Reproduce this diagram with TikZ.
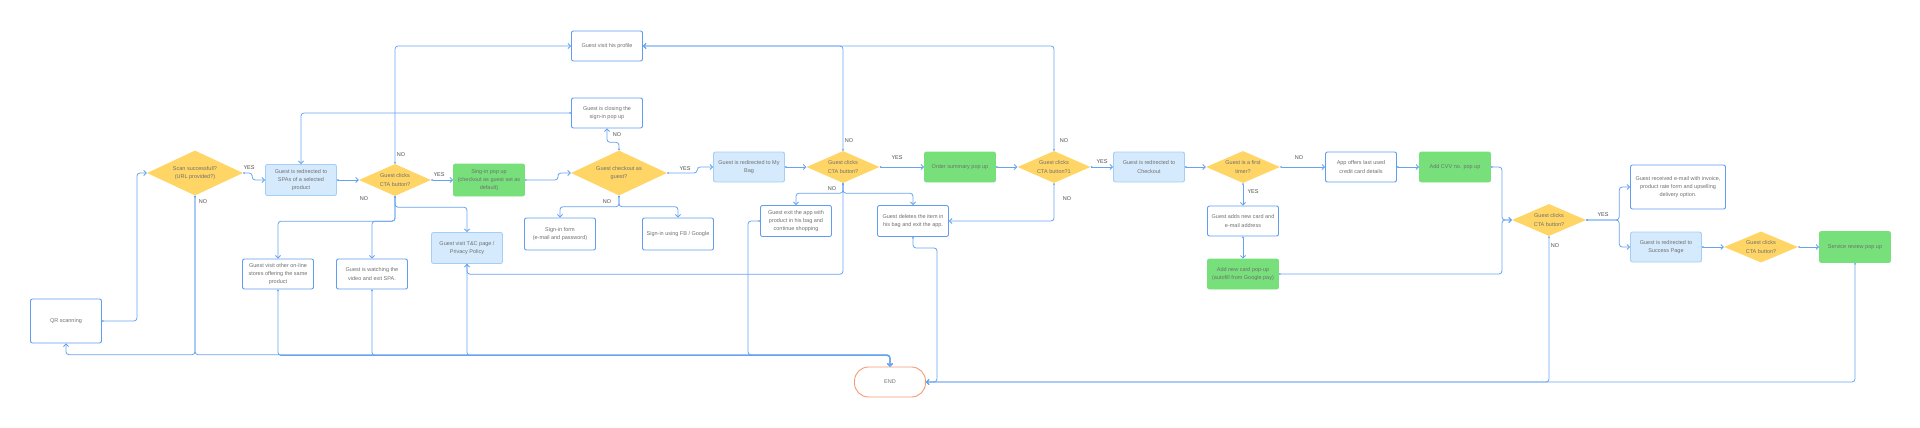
\documentclass[tikz,border=0pt]{standalone}
\usepackage{fontspec}
\setmainfont{Liberation Sans}
\usetikzlibrary{arrows.meta,shapes.geometric}

\definecolor{lineblue}{RGB}{104,163,240}
\definecolor{boxblue}{RGB}{96,156,240}
\definecolor{fillblue}{RGB}{213,234,252}
\definecolor{edgeblue}{RGB}{165,206,246}
\definecolor{popgreen}{RGB}{119,224,123}
\definecolor{askyellow}{RGB}{255,213,102}
\definecolor{endorange}{RGB}{245,152,112}
\definecolor{greytext}{RGB}{112,112,112}

\begin{document}
\begin{tikzpicture}[x=1pt,y=-1pt,>={Straight Barb[length=2.5pt,width=5pt]},
                    font=\fontsize{5.5}{8.2}\selectfont]
  \tikzstyle{every node}=[text=greytext,align=center]
  \tikzstyle{plain}=[rectangle,draw=boxblue,fill=white,line width=0.9pt,rounded corners=2pt,
                     minimum width=71pt,minimum height=30pt,inner sep=1pt]
  \tikzstyle{page}=[plain,draw=edgeblue,fill=fillblue]
  \tikzstyle{popup}=[plain,draw=popgreen,fill=popgreen]
  \tikzstyle{ask}=[diamond,fill=askyellow,aspect=2.2,inner sep=0pt,
                   minimum width=73pt,minimum height=32pt]
  \tikzstyle{stop}=[rectangle,draw=endorange,line width=0.9pt,rounded corners=14pt,
                    minimum width=71pt,minimum height=30pt]
  \tikzstyle{link}=[draw=lineblue,line width=0.8pt,rounded corners=3pt,{Circle[length=1.8pt]}->]
  \tikzstyle{lbl}=[text=black!70,inner sep=0.5pt]

  \useasboundingbox (0,0) rectangle (1920,428);

  % first row
  \node[plain,minimum height=44pt] (qr)      at (66,321)   {QR scanning};
  \node[ask,minimum width=96pt,minimum height=45pt]
                                   (scan)    at (195,173)  {Scan successfull?\\(URL provided?)};
  \node[page,minimum height=31pt]  (spa)     at (301,180)  {Guest is redirected to\\SPAs of a selected\\product};
  \node[ask,minimum width=72pt]    (cta1)    at (395,180)  {Guest clicks\\CTA button?};
  \node[popup,minimum height=32pt] (signin)  at (489,180)  {Sing-in pop up\\(checkout as guest set as\\default)};
  \node[plain]                     (profile) at (607,46)   {Guest visit his profile};
  \node[plain]                     (closing) at (607,113)  {Guest is closing the\\sign-in pop up};
  \node[ask,minimum width=96pt,minimum height=45pt]
                                   (ckg)     at (619,173)  {Guest checkout as\\guest?};
  \node[page]                      (bag)     at (749,167)  {Guest is redirected to My\\Bag};
  \node[ask]                       (cta2)    at (843,167)  {Guest clicks\\CTA button?};
  \node[popup]                     (order)   at (960,167)  {Order summary pop up};
  \node[ask]                       (cta3)    at (1054,167) {Guest clicks\\CTA button?1};
  \node[page]                      (checkout)at (1149,167) {Guest is redirected to\\Checkout};
  \node[ask,minimum width=74pt]    (first)   at (1243,167) {Guest is a first\\timer?};
  \node[plain]                     (offers)  at (1361,167) {App offers last used\\credit card details};
  \node[popup]                     (cvv)     at (1455,167) {Add CVV no. pop up};
  \node[plain]                     (adds)    at (1243,221) {Guest adds new card and\\e-mail address};
  \node[popup]                     (newcard) at (1243,274) {Add new card pop-up\\(autofill from Google pay)};
  \node[ask,minimum width=74pt]    (cta4)    at (1549,220) {Guest clicks\\CTA button?};
  \node[plain,minimum width=95pt,minimum height=44pt]
                                   (email)   at (1678,187) {Guest received e-mail with invoice,\\product rate form and upselling\\delivery option.};
  \node[page]                      (success) at (1666,247) {Guest is redirected to\\Success Page};
  \node[ask,minimum width=74pt,minimum height=31pt]
                                   (cta5)    at (1761,247) {Guest clicks\\CTA button?};
  \node[popup,minimum height=31pt] (review)  at (1855,247) {Service review pop up};

  % exits
  \node[plain]                     (stores)  at (278,274)  {Guest visit other on-line\\stores offering the same\\product};
  \node[plain]                     (video)   at (372,274)  {Guest is watching the\\video and exit SPA.};
  \node[page,minimum height=31pt]  (tc)      at (467,248)  {Guest visit T\&C page /\\Privacy Policy};
  \node[plain,minimum height=32pt] (form)    at (560,234)  {Sign-in form\\(e-mail and password)};
  \node[plain,minimum height=32pt] (fb)      at (678,234)  {Sign-in using FB / Google};
  \node[plain,minimum height=31pt] (exit)    at (796,221)  {Guest exit the app with\\product in his bag and\\continue shopping};
  \node[plain,minimum height=31pt] (deletes) at (913,221)  {Guest deletes the item in\\his bag and exit the app.};
  \node[stop]                      (end)     at (890,382)  {END};

  % scanning
  \draw[link] (qr.east) -- ++(35,0) |- (scan.west);
  \draw[link] (scan.east) -- ++(9,0) |- (spa.west) node[lbl] (yes1) at (249,168) {YES};
  \draw[link] (scan.south) -- ++(0,159) -| (qr.south) node[lbl] (no1) at (203,202) {NO};
  \draw[link] (scan.south) -- ++(0,159) -| (end.north);

  % product page
  \draw[link] (spa.east) -- (cta1.west);
  \draw[link] (cta1.east) -- (signin.west) node[lbl] (yes2) at (439,175) {YES};
  \draw[link] (cta1.north) |- (profile.west) node[lbl] (no2) at (401,155) {NO};
  \draw[link] (cta1.south) -- ++(0,25) -| (stores.north) node[lbl] (no3) at (364,199) {NO};
  \draw[link] (cta1.south) -- ++(0,25) -| (video.north);
  \draw[link] (cta1.south) -- ++(0,11) -| (tc.north);
  \draw[link] (closing.west) -| (spa.north);
  \draw[link] (stores.south) -- ++(0,66) -| (end.north);
  \draw[link] (video.south) -- ++(0,66) -| (end.north);
  \draw[link] (tc.south) -- ++(0,91.5) -| (end.north);

  % sign-in
  \draw[link] (signin.east) -- ++(33,0) |- (ckg.west);
  \draw[link] (ckg.north) -- ++(0,-8) -| (closing.south) node[lbl] (no4) at (617,135) {NO};
  \draw[link] (ckg.south) -- ++(0,11) -| (form.north) node[lbl] (no5) at (607,202) {NO};
  \draw[link] (ckg.south) -- ++(0,11) -| (fb.north);
  \draw[link] (ckg.east) -- ++(30,0) |- (bag.west) node[lbl] (yes3) at (685,169) {YES};

  % my bag
  \draw[link] (bag.east) -- (cta2.west);
  \draw[link] (cta2.east) -- (order.west) node[lbl] (yes4) at (897,158) {YES};
  \draw[link] (cta2.north) |- (profile.east) node[lbl] (no6) at (849,141) {NO};
  \draw[link] (cta2.south) -- ++(0,10) -| (exit.north) node[lbl] (no7) at (832,189) {NO};
  \draw[link] (cta2.south) -- ++(0,10) -| (deletes.north);
  \draw[link] (cta2.south) -- ++(0,91) -| (tc.south);
  \draw[link] (exit.west) -- ++(-12,0) -- ++(0,134) -| (end.north);
  \draw[link] (deletes.south) -- ++(0,11) -- ++(24,0) |- (end.east);

  % order summary
  \draw[link] (order.east) -- (cta3.west);
  \draw[link] (cta3.east) -- (checkout.west) node[lbl] (yes5) at (1102,162) {YES};
  \draw[link] (cta3.north) |- (profile.east) node[lbl] (no8) at (1064,141) {NO};
  \draw[link] (cta3.south) |- (deletes.east) node[lbl] (no9) at (1067,199) {NO};

  % checkout
  \draw[link] (checkout.east) -- (first.west);
  \draw[link] (first.south) -- (adds.north) node[lbl] (yes6) at (1253,192) {YES};
  \draw[link] (adds.south) -- (newcard.north);
  \draw[link] (first.east) -- (offers.west) node[lbl] (no10) at (1299,158) {NO};
  \draw[link] (offers.east) -- (cvv.west);
  \draw[link] (cvv.east) -- ++(11,0) |- (cta4.west);
  \draw[link] (newcard.east) -- ++(223,0) |- (cta4.west);

  % success
  \draw[link] (cta4.east) -- ++(33,0) |- (email.west) node[lbl] (yes7) at (1603,215) {YES};
  \draw[link] (cta4.east) -- ++(33,0) |- (success.west);
  \draw[link] (cta4.south) |- (end.east) node[lbl] (no11) at (1555,246) {NO};
  \draw[link] (success.east) -- (cta5.west);
  \draw[link] (cta5.east) -- (review.west);
  \draw[link] (review.south) |- (end.east);
\end{tikzpicture}
\end{document}
